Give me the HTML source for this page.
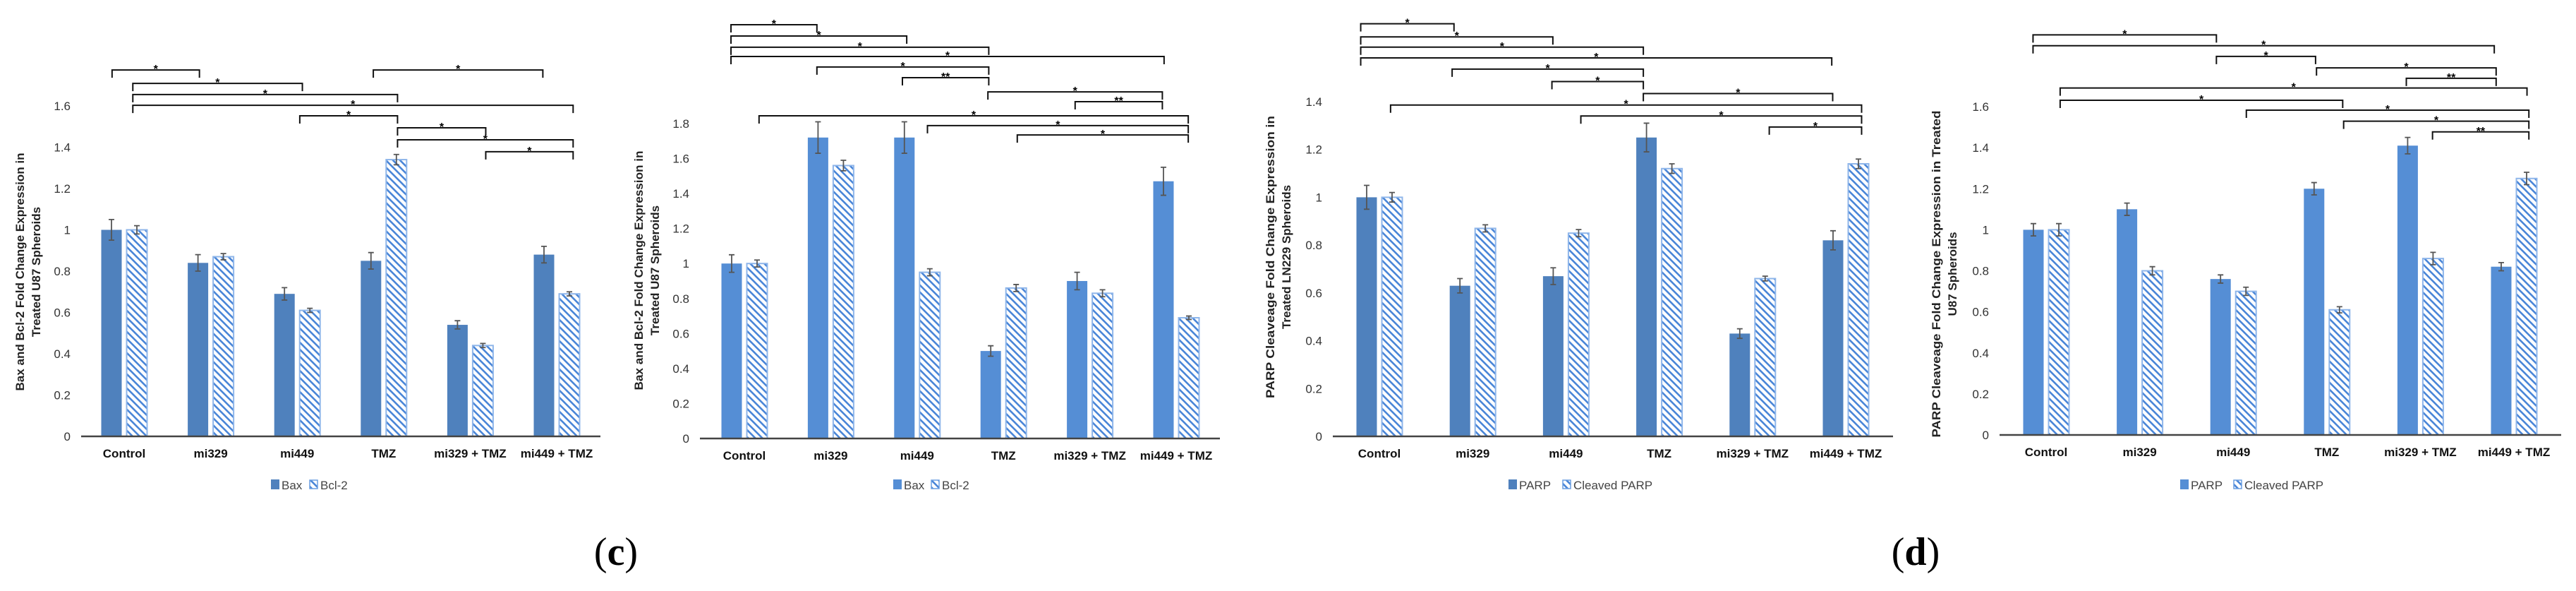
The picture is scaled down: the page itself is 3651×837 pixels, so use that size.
<!DOCTYPE html>
<html><head><meta charset="utf-8">
<style>
html,body{margin:0;padding:0;background:#fff;}
svg{display:block;font-family:"Liberation Sans",sans-serif;}
</style></head>
<body>
<svg id="fig" width="3651" height="837" viewBox="0 0 3651 837" xmlns="http://www.w3.org/2000/svg">
<defs>
<pattern id="hatch" patternUnits="userSpaceOnUse" width="10" height="10">
<rect width="10" height="10" fill="#fff"/>
<path d="M0,0 L10,10 M-3,7 L3,13 M7,-3 L13,3" stroke="#4a86d8" stroke-width="2.6"/>
</pattern>
</defs>
<text x="873" y="800" text-anchor="middle" font-family="Liberation Serif,serif" font-size="56">(<tspan font-weight="bold">c</tspan>)</text>
<text x="2715" y="800" text-anchor="middle" font-family="Liberation Serif,serif" font-size="56">(<tspan font-weight="bold">d</tspan>)</text>
</svg>
<script>
const categories = ["Control","mi329","mi449","TMZ","mi329 + TMZ","mi449 + TMZ"];

const c1Bax = [1.0, 0.84, 0.69, 0.85, 0.54, 0.88];
const c1BaxErr = [0.05, 0.04, 0.03, 0.04, 0.02, 0.04];
const c1Bcl = [1.0, 0.87, 0.61, 1.34, 0.44, 0.69];
const c1BclErr = [0.02, 0.015, 0.01, 0.025, 0.01, 0.01];
const c1Ticks = [0,0.2,0.4,0.6,0.8,1,1.2,1.4,1.6];
const c1TickLabels = ["0","0.2","0.4","0.6","0.8","1","1.2","1.4","1.6"];
const c1Brackets = [[-0.14,0.87,1.774,"*"],[0.10,2.06,1.709,"*"],[0.10,3.16,1.655,"*"],[0.10,5.19,1.603,"*"],[2.03,3.16,1.552,"*"],[3.16,4.18,1.494,"*"],[3.16,5.19,1.436,"*"],[4.18,5.19,1.378,"*"],[2.88,4.84,1.774,"*"]];

const c2Bax = [1.0, 1.72, 1.72, 0.50, 0.90, 1.47];
const c2BaxErr = [0.05, 0.09, 0.09, 0.03, 0.05, 0.08];
const c2Bcl = [1.0, 1.56, 0.95, 0.86, 0.83, 0.69];
const c2BclErr = [0.02, 0.03, 0.02, 0.02, 0.02, 0.01];
const c2Ticks = [0,0.2,0.4,0.6,0.8,1,1.2,1.4,1.6,1.8];
const c2TickLabels = ["0","0.2","0.4","0.6","0.8","1","1.2","1.4","1.6","1.8"];
const c2Brackets = [[-0.155,0.84,2.365,"*"],[-0.155,1.88,2.30,"*"],[-0.155,2.83,2.236,"*"],[-0.155,4.86,2.183,"*"],[0.84,2.83,2.123,"*"],[1.83,2.83,2.062,"**"],[2.82,4.84,1.981,"*"],[3.83,4.84,1.925,"**"],[0.17,5.14,1.844,"*"],[2.12,5.14,1.788,"*"],[3.16,5.14,1.735,"*"]];

const c3Parp = [1.0, 0.63, 0.67, 1.25, 0.43, 0.82];
const c3ParpErr = [0.05, 0.03, 0.035, 0.06, 0.02, 0.04];
const c3Cleaved = [1.0, 0.87, 0.85, 1.12, 0.66, 1.14];
const c3CleavedErr = [0.02, 0.015, 0.015, 0.02, 0.01, 0.02];
const c3Ticks = [0,0.2,0.4,0.6,0.8,1,1.2,1.4];
const c3TickLabels = ["0","0.2","0.4","0.6","0.8","1","1.2","1.4"];
const c3Brackets = [[-0.2,0.80,1.726,"*"],[-0.2,1.86,1.671,"*"],[-0.2,2.83,1.628,"*"],[-0.2,4.85,1.583,"*"],[0.78,2.83,1.536,"*"],[1.85,2.83,1.484,"*"],[2.83,4.86,1.434,"*"],[0.12,5.17,1.386,"*"],[2.16,5.17,1.340,"*"],[4.18,5.17,1.294,"*"]];

const c4Parp = [1.0, 1.10, 0.76, 1.20, 1.41, 0.82];
const c4ParpErr = [0.03, 0.03, 0.02, 0.03, 0.04, 0.02];
const c4Cleaved = [1.0, 0.80, 0.70, 0.61, 0.86, 1.25];
const c4CleavedErr = [0.03, 0.02, 0.02, 0.015, 0.03, 0.03];
const c4Ticks = [0,0.2,0.4,0.6,0.8,1,1.2,1.4,1.6];
const c4TickLabels = ["0","0.2","0.4","0.6","0.8","1","1.2","1.4","1.6"];
const c4Brackets = [[-0.14,1.82,1.95,"*"],[-0.14,4.79,1.897,"*"],[1.82,2.88,1.845,"*"],[2.89,4.81,1.789,"*"],[3.85,4.81,1.738,"**"],[0.15,5.14,1.691,"*"],[0.15,3.17,1.631,"*"],[2.14,5.16,1.583,"*"],[3.18,5.16,1.529,"*"],[4.13,5.16,1.477,"**"]];

const svg = document.getElementById('fig');
const NS = "http://www.w3.org/2000/svg";
function mk(tag, attrs, parent){
  const e = document.createElementNS(NS, tag);
  for (const k in attrs) e.setAttribute(k, attrs[k]);
  (parent||svg).appendChild(e);
  return e;
}

function drawChart(cfg){
  const g = mk('g', {});
  
  
  const xC = i => cfg.c0 + i*cfg.step;
  const yV = v => cfg.base - v*cfg.k;
  // y ticks
  cfg.ticks.forEach((t, j) => {
    const tx = mk('text', {x: cfg.ax0-15, y: yV(t)+6, 'text-anchor':'end', 'font-size':17, fill:'#333'}, g);
    tx.textContent = cfg.tickLabels[j];
    
    
  });
  // bars
  const bw = 29;
  categories.forEach((c, i) => {
    const cx = xC(i);
    const v1 = cfg.s1[i], v2 = cfg.s2[i];
    const b1 = mk('rect', {x: cx-32.5, y: yV(v1), width: bw, height: v1*cfg.k, fill: cfg.color}, g);
    
    
    const b2 = mk('rect', {x: cx+3.5, y: yV(v2), width: bw, height: v2*cfg.k, fill: 'url(#hatch)', stroke: '#8fb6ea', 'stroke-width': 2}, g);
    
    
    [[cx-18, v1, cfg.e1[i]], [cx+18, v2, cfg.e2[i]]].forEach(([ex, v, e]) => {
      const eb = mk('path', {d: `M${ex},${yV(v+e)} V${yV(v-e)} M${ex-4},${yV(v+e)} H${ex+4} M${ex-4},${yV(v-e)} H${ex+4}`, stroke: '#555', 'stroke-width': 1.8, fill:'none'}, g);
      
      
    });
    const cl = mk('text', {x: cx, y: cfg.base+30, 'text-anchor':'middle', 'font-size':17, 'font-weight':'bold', fill:'#111'}, g);
    cl.textContent = c;
    
    
  });
  const ax = mk('line', {x1: cfg.ax0, x2: cfg.ax1, y1: cfg.base, y2: cfg.base, stroke:'#444', 'stroke-width':2.5}, g);
  
  
  // brackets
  cfg.brackets.forEach(b => {
    const x1 = xC(b[0]), x2 = xC(b[1]), y = yV(b[2]);
    const p = mk('path', {d: `M${x1},${y+11} V${y} H${x2} V${y+11}`, stroke:'#111', 'stroke-width':2, fill:'none'}, g);
    
    
    const s = mk('text', {x: (x1+x2)/2, y: y+4, 'text-anchor':'middle', 'font-size':16, 'font-weight':'bold'}, g);
    s.textContent = b[3];
    
    
  });
  // y title
  const tt = mk('text', {transform: `translate(${cfg.tx},${cfg.ty}) rotate(-90)`, 'text-anchor':'middle', 'font-size':17, 'font-weight':'bold', fill:'#222'}, g);
  
  
  const l1 = mk('tspan', {x:0, y:-10, textLength: cfg.tl, lengthAdjust:'spacingAndGlyphs'}, tt);
  l1.textContent = cfg.title[0];
  const l2 = mk('tspan', {x:0, y:13}, tt);
  l2.textContent = cfg.title[1];
  // legend
  const lg = mk('g', {}, g);
  
  
  mk('rect', {x: cfg.lx1, y: 679, width: 12, height: 14, fill: cfg.color}, lg);
  const t1 = mk('text', {x: cfg.lx1+15, y: 693, 'font-size':17, fill:'#444'}, lg);
  t1.textContent = cfg.s1Name;
  mk('rect', {x: cfg.lx2, y: 680, width: 11, height: 12, fill: 'url(#hatch)', stroke:'#6a9ee0', 'stroke-width':1.5}, lg);
  const t2 = mk('text', {x: cfg.lx2+15, y: 693, 'font-size':17, fill:'#444'}, lg);
  t2.textContent = cfg.s2Name;
}

drawChart({name:'chart-bax-bcl2-u87-c-left', c0:176, step:122.6, base:618, k:292.5, ax0:115, ax1:851,
  s1:c1Bax, e1:c1BaxErr, s2:c1Bcl, e2:c1BclErr, ticks:c1Ticks, tickLabels:c1TickLabels, brackets:c1Brackets,
  color:'#4f81bd', s1Name:'Bax', s2Name:'Bcl-2', tx:44, ty:385, tl:337,
  title:['Bax and Bcl-2 Fold Change Expression in','Treated U87 Spheroids'], lx1:384, lx2:439});
drawChart({name:'chart-bax-bcl2-u87-c-right', c0:1055, step:122.4, base:621, k:247.8, ax0:992, ax1:1729,
  s1:c2Bax, e1:c2BaxErr, s2:c2Bcl, e2:c2BclErr, ticks:c2Ticks, tickLabels:c2TickLabels, brackets:c2Brackets,
  color:'#558ed5', s1Name:'Bax', s2Name:'Bcl-2', tx:921, ty:383, tl:339,
  title:['Bax and Bcl-2 Fold Change Expression in','Treated U87 Spheroids'], lx1:1266, lx2:1320});
drawChart({name:'chart-parp-ln229-d-left', c0:1955, step:132.2, base:618, k:338.6, ax0:1889, ax1:2683,
  s1:c3Parp, e1:c3ParpErr, s2:c3Cleaved, e2:c3CleavedErr, ticks:c3Ticks, tickLabels:c3TickLabels, brackets:c3Brackets,
  color:'#4f81bd', s1Name:'PARP', s2Name:'Cleaved PARP', tx:1816, ty:364, tl:400,
  title:['PARP Cleaveage Fold Change Expression in','Treated LN229 Spheroids'], lx1:2138, lx2:2215});
drawChart({name:'chart-parp-u87-d-right', c0:2900, step:132.6, base:616, k:290.6, ax0:2834, ax1:3630,
  s1:c4Parp, e1:c4ParpErr, s2:c4Cleaved, e2:c4CleavedErr, ticks:c4Ticks, tickLabels:c4TickLabels, brackets:c4Brackets,
  color:'#558ed5', s1Name:'PARP', s2Name:'Cleaved PARP', tx:2760, ty:388, tl:463,
  title:['PARP Cleaveage Fold Change Expression in Treated','U87 Spheroids'], lx1:3090, lx2:3166});
</script>
</body></html>
